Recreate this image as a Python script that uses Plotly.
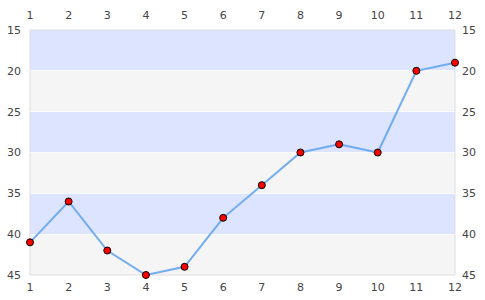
import plotly.graph_objects as go

x_vals = [1, 2, 3, 4, 5, 6, 7, 8, 9, 10, 11, 12]
y_vals = [41, 36, 42, 45, 44, 38, 34, 30, 29, 30, 20, 19]
band_starts = [15, 25, 35]
band_size = 5
y_ticks = [15, 20, 25, 30, 35, 40, 45]

fig = go.Figure()
fig.add_trace(go.Scatter(
    x=x_vals, y=y_vals, mode="lines+markers",
    line=dict(color="rgba(100,165,240,0.9)", width=2),
    marker=dict(color="#ff0000", size=7, line=dict(color="#000000", width=1)),
    hoverinfo="skip", showlegend=False, cliponaxis=False,
))
fig.add_trace(go.Scatter(
    x=x_vals, y=y_vals, xaxis="x2", yaxis="y2", mode="markers",
    marker=dict(opacity=0), hoverinfo="skip", showlegend=False,
))

shapes = []
shapes.append(dict(type="rect", xref="paper", yref="paper", x0=0, x1=1, y0=0, y1=1,
                   fillcolor="#f5f5f5", line=dict(width=0), layer="below"))
for s in band_starts:
    shapes.append(dict(type="rect", xref="paper", yref="y", x0=0, x1=1, y0=s, y1=s + band_size,
                       fillcolor="#dde4ff", line=dict(width=0), layer="below"))
shapes.append(dict(type="rect", xref="paper", yref="paper", x0=0, x1=1, y0=0, y1=1,
                   line=dict(color="#dddddd", width=1), fillcolor="rgba(0,0,0,0)", layer="between"))
fig.update_layout(shapes=shapes)

font = dict(family="DejaVu Sans", size=11, color="#444444")

fig.update_layout(
    width=485, height=300,
    margin=dict(l=30, r=30, t=30, b=25, autoexpand=False),
    paper_bgcolor="white", plot_bgcolor="rgba(0,0,0,0)",
    xaxis=dict(range=[1, 12], tickvals=x_vals, side="bottom", showgrid=False, automargin=False,
               zeroline=False, ticks="", tickfont=font, showline=False, ticklabelstandoff=4),
    yaxis=dict(range=[45, 15], tickvals=y_ticks, side="left", showgrid=True, automargin=False,
               gridcolor="rgba(255,255,255,0.7)", gridwidth=1,
               zeroline=False, ticks="", tickfont=font, showline=False, ticklabelstandoff=8),
    xaxis2=dict(range=[1, 12], tickvals=x_vals, overlaying="x", side="top", automargin=False,
                showgrid=False, zeroline=False, ticks="", tickfont=font, ticklabelstandoff=8),
    yaxis2=dict(range=[45, 15], tickvals=y_ticks, overlaying="y", side="right", automargin=False,
                showgrid=False, zeroline=False, ticks="", tickfont=font, ticklabelstandoff=6),
)

fig.write_html("out.html")
